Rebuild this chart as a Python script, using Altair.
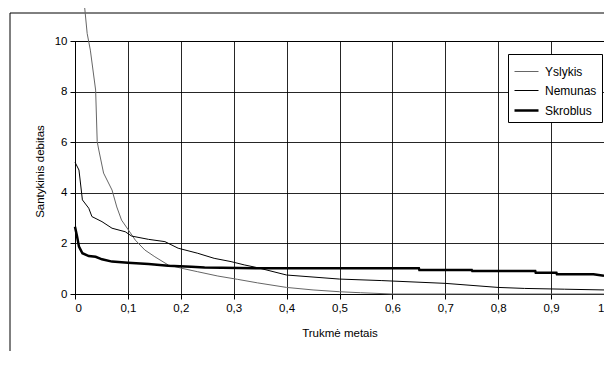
import altair as alt
import pandas as pd

names = ["Yslykis", "Nemunas", "Skroblus"]

ysl_t = [0.017, 0.023, 0.029, 0.039, 0.042, 0.045, 0.054, 0.070, 0.079, 0.088, 0.101, 0.114, 0.132,
         0.151, 0.176, 0.201, 0.232, 0.270, 0.307, 0.345, 0.40, 0.45, 0.50, 0.54, 0.60, 0.70, 0.80, 0.90, 1.0]
ysl_v = [11.6, 10.3, 9.64, 8.06, 6.02, 5.69, 4.78, 4.11, 3.44, 2.92, 2.53, 2.13, 1.74,
         1.47, 1.15, 1.02, 0.88, 0.71, 0.58, 0.44, 0.26, 0.16, 0.09, 0.05, 0.0, 0.0, 0.0, 0.0, 0.0]

nem_t = [0.0, 0.001, 0.0075, 0.014, 0.026, 0.032, 0.051, 0.070, 0.095, 0.107, 0.139, 0.170, 0.195,
         0.232, 0.263, 0.295, 0.32, 0.345, 0.40, 0.50, 0.58, 0.70, 0.80, 0.85, 0.925, 1.0]
nem_v = [5.2, 5.17, 4.9, 3.72, 3.39, 3.06, 2.86, 2.6, 2.46, 2.29, 2.16, 2.07, 1.81,
         1.61, 1.41, 1.28, 1.15, 1.04, 0.75, 0.59, 0.53, 0.42, 0.26, 0.22, 0.19, 0.16]

skr_t = [0.0, 0.004, 0.0075, 0.014, 0.026, 0.039, 0.051, 0.07, 0.10, 0.139, 0.176, 0.22, 0.245, 0.345,
         0.65, 0.651, 0.75, 0.751, 0.87, 0.871, 0.91, 0.911, 0.98, 1.0]
skr_v = [2.66, 2.26, 1.87, 1.61, 1.5, 1.47, 1.37, 1.28, 1.24, 1.19, 1.12, 1.08, 1.05, 1.02,
         1.02, 0.95, 0.95, 0.91, 0.91, 0.84, 0.84, 0.78, 0.78, 0.72]

x_ticks = [0, 0.1, 0.2, 0.3, 0.4, 0.5, 0.6, 0.7, 0.8, 0.9, 1.0]
y_ticks = [0, 2, 4, 6, 8, 10]

rows = []
for name, ts, vs in [("Yslykis", ysl_t, ysl_v), ("Nemunas", nem_t, nem_v), ("Skroblus", skr_t, skr_v)]:
    for i, (t, v) in enumerate(zip(ts, vs)):
        rows.append({"series": name, "t": t, "v": v, "i": i})
df = pd.DataFrame(rows)

FONT = "Liberation Sans"

leg = dict(
    title=None, orient="none", legendX=433, legendY=13,
    symbolType="stroke", symbolSize=576, labelFont=FONT, labelFontSize=12,
    labelColor="black", strokeColor="black", fillColor="white",
    padding=5, rowPadding=0, symbolOffset=0, labelOffset=5, cornerRadius=0,
)

lines = alt.Chart(df).mark_line(interpolate="linear").encode(
    x=alt.X("t:Q", scale=alt.Scale(domain=[0, 1], nice=False),
            axis=alt.Axis(values=x_ticks, title="Trukmė metais",
                          labelExpr="replace(format(datum.value, '.1~f'), '.', ',')",
                          titleY=39, titleBaseline="middle")),
    y=alt.Y("v:Q", scale=alt.Scale(domain=[0, 10], nice=False),
            axis=alt.Axis(values=y_ticks, title="Santykinis debitas",
                          titleX=-35, titleY=130, titleBaseline="middle")),
    color=alt.Color("series:N", scale=alt.Scale(domain=names, range=["#666666", "#000000", "#000000"]),
                    legend=alt.Legend(**leg)),
    strokeWidth=alt.StrokeWidth("series:N",
                                scale=alt.Scale(type="ordinal", domain=names, range=[1, 1, 2.5]),
                                legend=alt.Legend(**leg)),
    order="i:Q",
)

frame = alt.Chart(pd.DataFrame({"a": [0]})).mark_rect(
    fill="white", fillOpacity=0, stroke="black", strokeWidth=1
).encode(x=alt.value(-65), x2=alt.value(620), y=alt.value(-28), y2=alt.value(400))

chart = alt.layer(frame, lines).properties(
    width=529, height=253,
    autosize=alt.AutoSizeParams(type="none"),
    padding={"left": 67, "top": 33, "right": 0, "bottom": 57},
    background="white",
).configure_view(stroke="black", strokeWidth=1).configure_axis(
    labelFont=FONT, titleFont=FONT, labelFontSize=11.5, titleFontSize=11.5,
    titleFontWeight="normal", labelColor="black", titleColor="black",
    domainColor="black", tickColor="black", tickSize=5, grid=True,
    gridColor="#000000", gridOpacity=0.85, labelPadding=3,
)

chart.save("out.html", embed_options={"renderer": "svg", "actions": False})
